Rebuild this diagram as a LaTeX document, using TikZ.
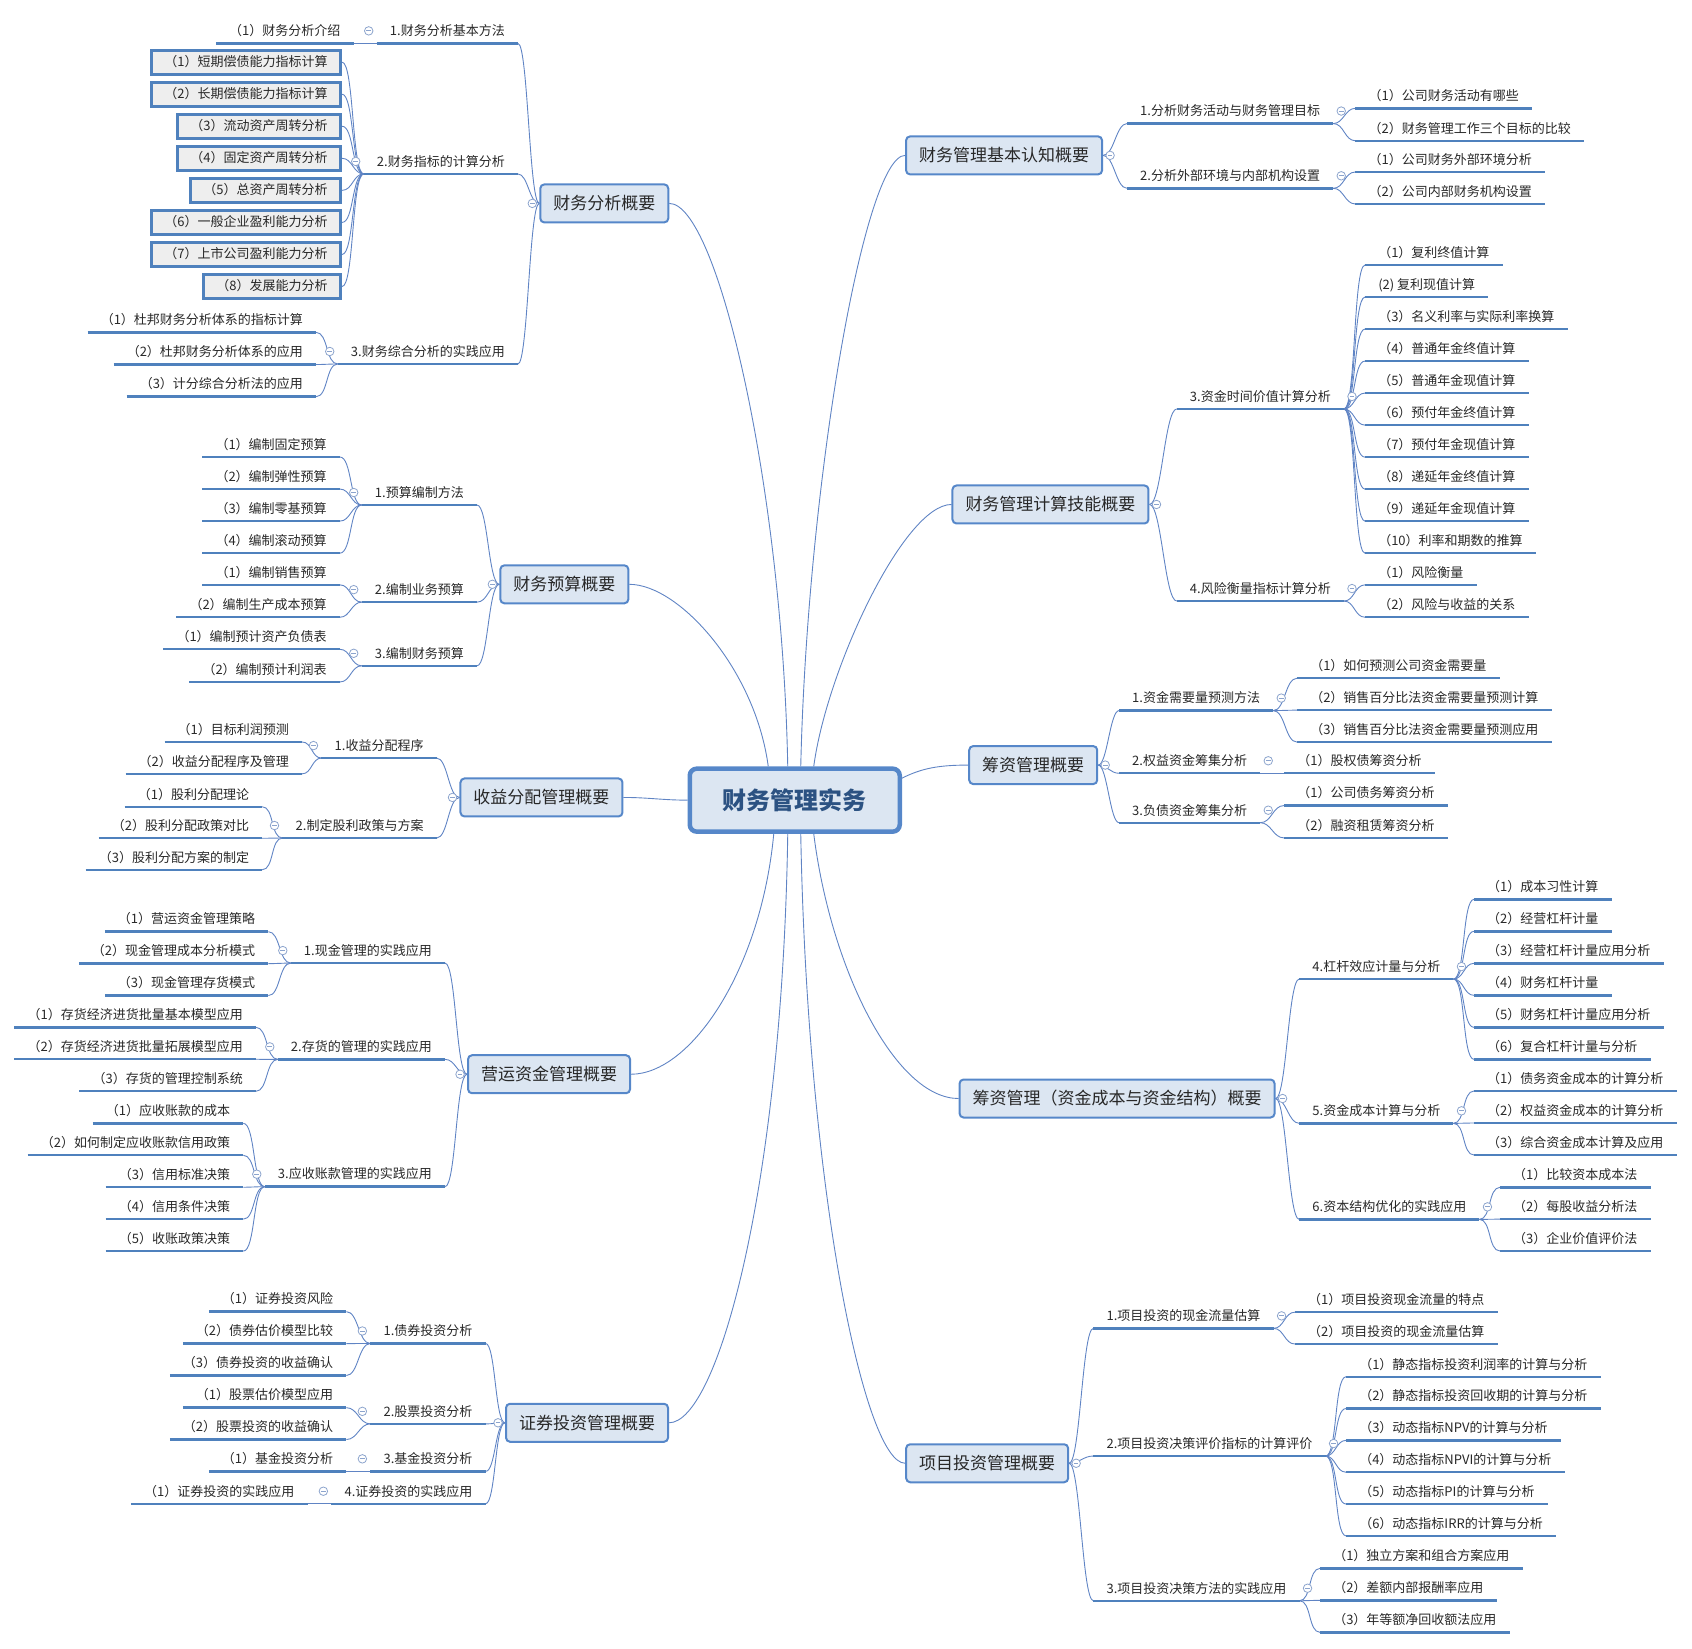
\documentclass[tikz,border=0pt]{standalone}
\usepackage{fontspec}
\setmainfont{Noto Sans CJK SC}
\usetikzlibrary{backgrounds}
\definecolor{boxfill}{RGB}{220,230,242}
\definecolor{boxline}{RGB}{86,135,201}
\definecolor{ulblue}{RGB}{79,129,189}
\definecolor{lnk}{RGB}{96,132,196}
\definecolor{txt}{RGB}{40,40,40}
\definecolor{roottxt}{RGB}{44,82,130}
\definecolor{leafgray}{RGB}{238,238,238}
\definecolor{togcol}{RGB}{140,164,205}
\tikzset{
  ul/.style={draw=ulblue, line width=2.4pt},
  lf/.style={font=\fontsize{13}{15}\selectfont, text=txt, inner xsep=13pt,
             inner ysep=7.5pt, text height=10pt, text depth=0pt,
             append after command={(\tikzlastnode.south west) edge[ul] (\tikzlastnode.south east)}},
  bx/.style={font=\fontsize{13}{15}\selectfont, text=txt, draw=ulblue, line width=3pt,
             fill=leafgray, inner xsep=13pt, inner ysep=0pt, minimum height=24pt,
             text height=10pt, text depth=2pt},
  topic/.style={draw=boxline, line width=2pt, rounded corners=4pt, fill=boxfill,
                font=\fontsize{17}{20}\selectfont, text=txt, inner xsep=13pt,
                minimum height=38pt},
  root/.style={draw=boxline, line width=4.5pt, rounded corners=7pt, fill=boxfill,
               font=\fontsize{24}{28}\selectfont\bfseries, text=roottxt,
               minimum width=210pt, minimum height=63pt},
  tog/.style={circle, draw=togcol, fill=white, line width=0.8pt, inner sep=0pt,
              minimum size=8.5pt, path picture={\draw[togcol, line width=0.8pt]
              ([xshift=-2.3pt]path picture bounding box.center) --
              ([xshift=2.3pt]path picture bounding box.center);}},
  conn/.style={draw=lnk, line width=0.9pt},
  lk/.style={out=180, in=0, max distance=#1}, lk/.default=12pt,
  rk/.style={out=0, in=180, max distance=#1}, rk/.default=12pt,
}
\begin{document}
\begin{tikzpicture}[x=1.0791pt, y=-1.0791pt]
\useasboundingbox (0,0) rectangle (1568,1528);
\node[root] (root) at (736.5,741.5) {财务管理实务};

% 财务分析概要
\node[topic] (A) at (560,188.5) {财务分析概要};
\node[lf, anchor=south east] (a1) at (480,40.2) {1.财务分析基本方法};
\node[lf, anchor=south east] (a2) at (480,161.2) {2.财务指标的计算分析};
\node[lf, anchor=south east] (a3) at (480,337.3) {3.财务综合分析的实践应用};
\node[lf, anchor=south east] (a11) at (327.6,40.2) {（1）财务分析介绍};
\foreach \lab [count=\i] in {（1）短期偿债能力指标计算, （2）长期偿债能力指标计算,
    （3）流动资产周转分析, （4）固定资产周转分析, （5）总资产周转分析,
    （6）一般企业盈利能力分析, （7）上市公司盈利能力分析, （8）发展能力分析}
  \node[bx, anchor=east] (a2\i) at (317,{57.6+29.7*(\i-1)}) {\lab};
\foreach \lab [count=\i] in {（1）杜邦财务分析体系的指标计算, （2）杜邦财务分析体系的应用,
    （3）计分综合分析法的应用}
  \node[lf, anchor=south east] (a3\i) at (293,{308+29.8*(\i-1)}) {\lab};

% 财务预算概要
\node[topic] (B) at (523,541.5) {财务预算概要};
\node[lf, anchor=south east] (b1) at (442,468) {1.预算编制方法};
\node[lf, anchor=south east] (b2) at (442,558) {2.编制业务预算};
\node[lf, anchor=south east] (b3) at (442,617) {3.编制财务预算};
\foreach \lab [count=\i] in {（1）编制固定预算, （2）编制弹性预算, （3）编制零基预算, （4）编制滚动预算}
  \node[lf, anchor=south east] (b1\i) at (315,{423.5+29.7*(\i-1)}) {\lab};
\foreach \lab [count=\i] in {（1）编制销售预算, （2）编制生产成本预算}
  \node[lf, anchor=south east] (b2\i) at (315,{542+30*(\i-1)}) {\lab};
\foreach \lab [count=\i] in {（1）编制预计资产负债表, （2）编制预计利润表}
  \node[lf, anchor=south east] (b3\i) at (315,{601.7+30.3*(\i-1)}) {\lab};

% 收益分配管理概要
\node[topic] (C) at (501.8,739) {收益分配管理概要};
\node[lf, anchor=south east] (c1) at (404.7,702.5) {1.收益分配程序};
\node[lf, anchor=south east] (c2) at (404.7,776.6) {2.制定股利政策与方案};
\foreach \lab [count=\i] in {（1）目标利润预测, （2）收益分配程序及管理}
  \node[lf, anchor=south east] (c1\i) at (280,{687.6+29.5*(\i-1)}) {\lab};
\foreach \lab [count=\i] in {（1）股利分配理论, （2）股利分配政策对比, （3）股利分配方案的制定}
  \node[lf, anchor=south east] (c2\i) at (243,{747.6+29.2*(\i-1)}) {\lab};

% 营运资金管理概要
\node[topic] (D) at (508.8,995.5) {营运资金管理概要};
\node[lf, anchor=south east] (d1) at (412.4,892.5) {1.现金管理的实践应用};
\node[lf, anchor=south east] (d2) at (412.4,981.7) {2.存货的管理的实践应用};
\node[lf, anchor=south east] (d3) at (412.4,1099.7) {3.应收账款管理的实践应用};
\foreach \lab [count=\i] in {（1）营运资金管理策略, （2）现金管理成本分析模式, （3）现金管理存货模式}
  \node[lf, anchor=south east] (d1\i) at (248.7,{863.4+29.6*(\i-1)}) {\lab};
\foreach \lab [count=\i] in {（1）存货经济进货批量基本模型应用, （2）存货经济进货批量拓展模型应用,
    （3）存货的管理控制系统}
  \node[lf, anchor=south east] (d2\i) at (237.2,{952+29.65*(\i-1)}) {\lab};
\foreach \lab [count=\i] in {（1）应收账款的成本, （2）如何制定应收账款信用政策, （3）信用标准决策,
    （4）信用条件决策, （5）收账政策决策}
  \node[lf, anchor=south east] (d3\i) at (225.5,{1041+29.6*(\i-1)}) {\lab};

% 证券投资管理概要
\node[topic] (E) at (544,1318.5) {证券投资管理概要};
\node[lf, anchor=south east] (e1) at (450,1245) {1.债券投资分析};
\node[lf, anchor=south east] (e2) at (450,1319.5) {2.股票投资分析};
\node[lf, anchor=south east] (e3) at (450,1363.5) {3.基金投资分析};
\node[lf, anchor=south east] (e4) at (450,1393.5) {4.证券投资的实践应用};
\foreach \lab [count=\i] in {（1）证券投资风险, （2）债券估价模型比较, （3）债券投资的收益确认}
  \node[lf, anchor=south east] (e1\i) at (321,{1215.5+29.6*(\i-1)}) {\lab};
\foreach \lab [count=\i] in {（1）股票估价模型应用, （2）股票投资的收益确认}
  \node[lf, anchor=south east] (e2\i) at (321,{1304.5+29.5*(\i-1)}) {\lab};
\node[lf, anchor=south east] (e31) at (321,1363.5) {（1）基金投资分析};
\node[lf, anchor=south east] (e41) at (285,1393.5) {（1）证券投资的实践应用};

% 财务管理基本认知概要
\node[topic] (F) at (930.5,144) {财务管理基本认知概要};
\node[lf, anchor=south west] (f1) at (1044.4,114.5) {1.分析财务活动与财务管理目标};
\node[lf, anchor=south west] (f2) at (1044.4,174.5) {2.分析外部环境与内部机构设置};
\foreach \lab [count=\i] in {（1）公司财务活动有哪些, （2）财务管理工作三个目标的比较}
  \node[lf, anchor=south west] (f1\i) at (1256,{100.4+30*(\i-1)}) {\lab};
\foreach \lab [count=\i] in {（1）公司财务外部环境分析, （2）公司内部财务机构设置}
  \node[lf, anchor=south west] (f2\i) at (1256,{159.4+29.6*(\i-1)}) {\lab};

% 财务管理计算技能概要
\node[topic] (G) at (973.5,467.5) {财务管理计算技能概要};
\node[lf, anchor=south west] (g1) at (1090.5,379) {3.资金时间价值计算分析};
\node[lf, anchor=south west] (g2) at (1090.5,557) {4.风险衡量指标计算分析};
\foreach \lab [count=\i] in {（1）复利终值计算, (2) 复利现值计算, （3）名义利率与实际利率换算,
    （4）普通年金终值计算, （5）普通年金现值计算, （6）预付年金终值计算, （7）预付年金现值计算,
    （8）递延年金终值计算, （9）递延年金现值计算, （10）利率和期数的推算}
  \node[lf, anchor=south west] (g1\i) at (1265,{245.6+29.67*(\i-1)}) {\lab};
\foreach \lab [count=\i] in {（1）风险衡量, （2）风险与收益的关系}
  \node[lf, anchor=south west] (g2\i) at (1265,{542+30*(\i-1)}) {\lab};

% 筹资管理概要
\node[topic] (H) at (957.5,709) {筹资管理概要};
\node[lf, anchor=south west] (h1) at (1037,658.5) {1.资金需要量预测方法};
\node[lf, anchor=south west] (h2) at (1037,716.6) {2.权益资金筹集分析};
\node[lf, anchor=south west] (h3) at (1037,762.4) {3.负债资金筹集分析};
\foreach \lab [count=\i] in {（1）如何预测公司资金需要量, （2）销售百分比法资金需要量预测计算,
    （3）销售百分比法资金需要量预测应用}
  \node[lf, anchor=south west] (h1\i) at (1202,{628.5+29.6*(\i-1)}) {\lab};
\node[lf, anchor=south west] (h21) at (1190,716.6) {（1）股权债筹资分析};
\foreach \lab [count=\i] in {（1）公司债务筹资分析, （2）融资租赁筹资分析}
  \node[lf, anchor=south west] (h3\i) at (1190,{746.5+30*(\i-1)}) {\lab};

% 筹资管理（资金成本与资金结构）概要
\node[topic] (K) at (1035.2,1018) {筹资管理（资金成本与资金结构）概要};
\node[lf, anchor=south west] (k1) at (1204,907.3) {4.杠杆效应计量与分析};
\node[lf, anchor=south west] (k2) at (1204,1041) {5.资金成本计算与分析};
\node[lf, anchor=south west] (k3) at (1204,1130) {6.资本结构优化的实践应用};
\foreach \lab [count=\i] in {（1）成本习性计算, （2）经营杠杆计量, （3）经营杠杆计量应用分析,
    （4）财务杠杆计量, （5）财务杠杆计量应用分析, （6）复合杠杆计量与分析}
  \node[lf, anchor=south west] (k1\i) at (1366,{833.4+29.66*(\i-1)}) {\lab};
\foreach \lab [count=\i] in {（1）债务资金成本的计算分析, （2）权益资金成本的计算分析,
    （3）综合资金成本计算及应用}
  \node[lf, anchor=south west] (k2\i) at (1366,{1011+29.7*(\i-1)}) {\lab};
\foreach \lab [count=\i] in {（1）比较资本成本法, （2）每股收益分析法, （3）企业价值评价法}
  \node[lf, anchor=south west] (k3\i) at (1390,{1100.3+29.5*(\i-1)}) {\lab};

% 项目投资管理概要
\node[topic] (M) at (914.8,1356) {项目投资管理概要};
\node[lf, anchor=south west] (m1) at (1013.2,1231) {1.项目投资的现金流量估算};
\node[lf, anchor=south west] (m2) at (1013.2,1349.3) {2.项目投资决策评价指标的计算评价};
\node[lf, anchor=south west] (m3) at (1013.2,1483.4) {3.项目投资决策方法的实践应用};
\foreach \lab [count=\i] in {（1）项目投资现金流量的特点, （2）项目投资的现金流量估算}
  \node[lf, anchor=south west] (m1\i) at (1200,{1216+29.5*(\i-1)}) {\lab};
\foreach \lab [count=\i] in {（1）静态指标投资利润率的计算与分析, （2）静态指标投资回收期的计算与分析,
    （3）动态指标NPV的计算与分析, （4）动态指标NPVI的计算与分析, （5）动态指标PI的计算与分析,
    （6）动态指标IRR的计算与分析}
  \node[lf, anchor=south west] (m2\i) at (1247.4,{1275.8+29.5*(\i-1)}) {\lab};
\foreach \lab [count=\i] in {（1）独立方案和组合方案应用, （2）差额内部报酬率应用, （3）年等额净回收额法应用}
  \node[lf, anchor=south west] (m3\i) at (1223.3,{1453.4+29.65*(\i-1)}) {\lab};

% connectors
\begin{scope}[on background layer]
  \draw[conn] ([xshift=-7pt]root.north) .. controls +(-5,-260) and +(44.5,0) .. (A.east);
  \draw[conn] ([xshift=6pt]root.north) .. controls +(6,-260) and +(-38,0) .. (F.west);
  \draw[conn] ([xshift=-26.5pt]root.north) .. controls +(-12,-90) and +(46,0) .. (B.east);
  \draw[conn] ([xshift=19pt]root.north) .. controls +(12,-90) and +(-44,0) .. (G.west);
  \draw[conn] (root.west) to[out=180, in=0] (C.east);
  \draw[conn] ([yshift=22pt]root.east) .. controls +(18,-9) and +(-28,0) .. (H.west);
  \draw[conn] ([xshift=-21pt]root.south) .. controls +(-12,127) and +(55,0) .. (D.east);
  \draw[conn] ([xshift=-7pt]root.south) .. controls +(-5,327) and +(45,0) .. (E.east);
  \draw[conn] ([xshift=6pt]root.south) .. controls +(6,327) and +(-38,0) .. (M.west);
  \draw[conn] ([xshift=19pt]root.south) .. controls +(16,127) and +(-58,0) .. (K.west);
  % left branches
  \foreach \j in {1,2,3} \draw[conn] (A.west) to[lk=10pt] (a\j.south east);
  \draw[conn] (a1.south west) to[lk] (a11.south east);
  \foreach \i in {1,...,8} \draw[conn] (a2.south west) to[lk] (a2\i.east);
  \foreach \i in {1,2,3} \draw[conn] (a3.south west) to[lk] (a3\i.south east);
  \foreach \j in {1,2,3} \draw[conn] (B.west) to[lk=11pt] (b\j.south east);
  \foreach \i in {1,...,4} \draw[conn] (b1.south west) to[lk] (b1\i.south east);
  \foreach \i in {1,2} \draw[conn] (b2.south west) to[lk] (b2\i.south east);
  \foreach \i in {1,2} \draw[conn] (b3.south west) to[lk] (b3\i.south east);
  \foreach \j in {1,2} \draw[conn] (C.west) to[lk=11pt] (c\j.south east);
  \foreach \i in {1,2} \draw[conn] (c1.south west) to[lk] (c1\i.south east);
  \foreach \i in {1,2,3} \draw[conn] (c2.south west) to[lk] (c2\i.south east);
  \foreach \j in {1,2,3} \draw[conn] (D.west) to[lk=11pt] (d\j.south east);
  \foreach \i in {1,2,3} \draw[conn] (d1.south west) to[lk] (d1\i.south east);
  \foreach \i in {1,2,3} \draw[conn] (d2.south west) to[lk] (d2\i.south east);
  \foreach \i in {1,...,5} \draw[conn] (d3.south west) to[lk] (d3\i.south east);
  \foreach \j in {1,...,4} \draw[conn] (E.west) to[lk=10pt] (e\j.south east);
  \foreach \i in {1,2,3} \draw[conn] (e1.south west) to[lk] (e1\i.south east);
  \foreach \i in {1,2} \draw[conn] (e2.south west) to[lk] (e2\i.south east);
  \draw[conn] (e3.south west) to[lk] (e31.south east);
  \draw[conn] (e4.south west) to[lk] (e41.south east);
  % right branches
  \foreach \j in {1,2} \draw[conn] (F.east) to[rk=11pt] (f\j.south west);
  \foreach \i in {1,2} \draw[conn] (f1.south east) to[rk] (f1\i.south west);
  \foreach \i in {1,2} \draw[conn] (f2.south east) to[rk] (f2\i.south west);
  \foreach \j in {1,2} \draw[conn] (G.east) to[rk=12pt] (g\j.south west);
  \foreach \i in {1,...,10} \draw[conn] (g1.south east) to[rk] (g1\i.south west);
  \foreach \i in {1,2} \draw[conn] (g2.south east) to[rk] (g2\i.south west);
  \foreach \j in {1,2,3} \draw[conn] (H.east) to[rk=9pt] (h\j.south west);
  \foreach \i in {1,2,3} \draw[conn] (h1.south east) to[rk] (h1\i.south west);
  \draw[conn] (h2.south east) to[rk] (h21.south west);
  \foreach \i in {1,2} \draw[conn] (h3.south east) to[rk] (h3\i.south west);
  \foreach \j in {1,2,3} \draw[conn] (K.east) to[rk=11pt] (k\j.south west);
  \foreach \i in {1,...,6} \draw[conn] (k1.south east) to[rk] (k1\i.south west);
  \foreach \i in {1,2,3} \draw[conn] (k2.south east) to[rk] (k2\i.south west);
  \foreach \i in {1,2,3} \draw[conn] (k3.south east) to[rk] (k3\i.south west);
  \foreach \j in {1,2,3} \draw[conn] (M.east) to[rk=11pt] (m\j.south west);
  \foreach \i in {1,2} \draw[conn] (m1.south east) to[rk] (m1\i.south west);
  \foreach \i in {1,...,6} \draw[conn] (m2.south east) to[rk] (m2\i.south west);
  \foreach \i in {1,2,3} \draw[conn] (m3.south east) to[rk] (m3\i.south west);
\end{scope}

% collapse marks
\foreach \n in {A,B,C,D,E} \node[tog] (t\n) at ([xshift=-7pt]\n.west) {};
\foreach \n in {F,G,H,K,M} \node[tog] (t\n) at ([xshift=7pt]\n.east) {};
\foreach \n in {a1,a2,a3,b1,b2,b3,c1,c2,d1,d2,d3,e1,e2,e3,e4}
  \node[tog] (t\n) at ([xshift=-8pt,yshift=12.5pt]\n.south west) {};
\foreach \n in {f1,f2,g1,g2,h1,h2,h3,k1,k2,k3,m1,m2,m3}
  \node[tog] (t\n) at ([xshift=8pt,yshift=12.5pt]\n.south east) {};
\end{tikzpicture}
\end{document}
